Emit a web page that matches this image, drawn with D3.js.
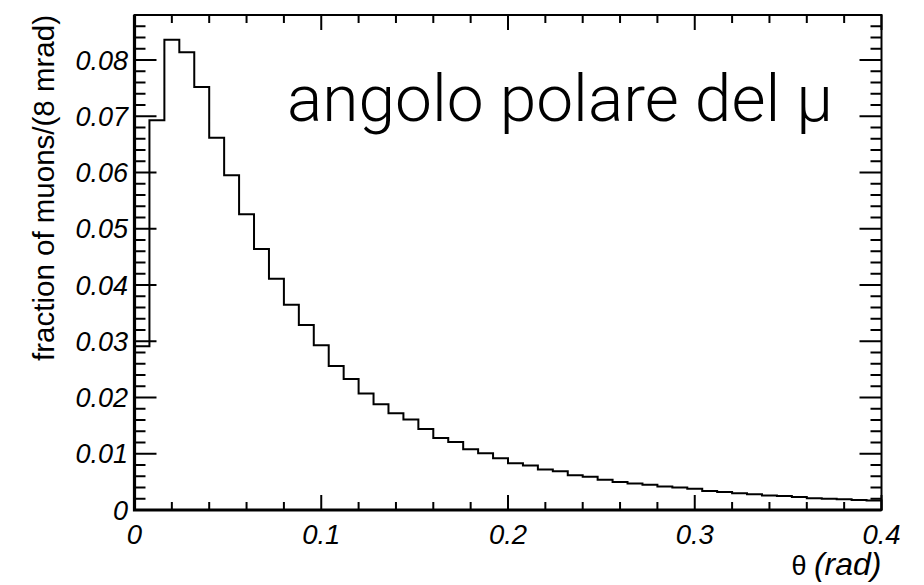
<!DOCTYPE html>
<html>
<head>
<meta charset="utf-8">
<script src="https://cdn.jsdelivr.net/npm/d3@7"></script>
<style>
  html, body { margin: 0; padding: 0; background: #fff; }
  svg { display: block; }
</style>
</head>
<body>
<svg id="chart" width="924" height="585"></svg>
<script>
// Polar angle of the muon: fraction of muons per 8 mrad bin, 50 bins from 0 to 0.4 rad
const binWidth = 0.008;
const fractions = [
  0.0291, 0.0693, 0.0836, 0.0814, 0.0752, 0.0662, 0.0595, 0.0526, 0.0464, 0.0411,
  0.0365, 0.0329, 0.0293, 0.0256, 0.0233, 0.0207, 0.0188, 0.0172, 0.0161, 0.0144,
  0.0128, 0.0121, 0.0108, 0.0101, 0.0092, 0.0083, 0.0079, 0.0072, 0.0069, 0.0062,
  0.0059, 0.0054, 0.0050, 0.0047, 0.0045, 0.0042, 0.0040, 0.0038, 0.0034, 0.0032,
  0.0030, 0.0028, 0.0026, 0.0025, 0.0023, 0.0021, 0.0020, 0.0019, 0.0018, 0.0017
];
const xMajorTicks = [0, 0.1, 0.2, 0.3, 0.4];
const xTickLabels = ["0", "0.1", "0.2", "0.3", "0.4"];
const yMajorTicks = [0, 0.01, 0.02, 0.03, 0.04, 0.05, 0.06, 0.07, 0.08];
const yTickLabels = ["0", "0.01", "0.02", "0.03", "0.04", "0.05", "0.06", "0.07", "0.08"];
const titleText = "angolo polare del \u03bc";
const yTitleText = "fraction of muons/(8 mrad)";

const svg = d3.select("#chart");
const frameL = 134.5, frameR = 881.5, frameT = 15, frameB = 510;

const x = d3.scaleLinear().domain([0, 0.4]).range([frameL, frameR]);
const y = d3.scaleLinear().domain([0, 0.088]).range([frameB, frameT]);

// minor tick positions (5 divisions per major step)
const xMinor = d3.range(0, 0.4 + 1e-9, 0.02).filter(v => !xMajorTicks.some(m => Math.abs(m - v) < 1e-9));
const yMinor = d3.range(0, 0.088 + 1e-9, 0.002).filter(v => !yMajorTicks.some(m => Math.abs(m - v) < 1e-9));

const tickG = svg.append("g").attr("stroke", "#000").attr("stroke-width", 2);

// bottom and top x ticks, pointing into the frame
function xTicks(vals, len) {
  vals.forEach(v => {
    tickG.append("line").attr("x1", x(v)).attr("x2", x(v)).attr("y1", frameB).attr("y2", frameB - len);
    tickG.append("line").attr("x1", x(v)).attr("x2", x(v)).attr("y1", frameT).attr("y2", frameT + len);
  });
}
xTicks(xMajorTicks, 15);
xTicks(xMinor, 8);

// left and right y ticks, pointing into the frame
function yTicks(vals, len) {
  vals.forEach(v => {
    tickG.append("line").attr("x1", frameL).attr("x2", frameL + len).attr("y1", y(v)).attr("y2", y(v));
    tickG.append("line").attr("x1", frameR).attr("x2", frameR - len).attr("y1", y(v)).attr("y2", y(v));
  });
}
yTicks(yMajorTicks, 22);
yTicks(yMinor, 11);

// histogram outline: rise at the left edge, flat top per bin, drop at the right edge
const outline = [[0, 0]];
fractions.forEach((v, i) => {
  outline.push([i * binWidth, v]);
  outline.push([(i + 1) * binWidth, v]);
});
outline.push([fractions.length * binWidth, 0]);
svg.append("path")
  .attr("d", d3.line().x(d => x(d[0])).y(d => y(d[1]))(outline))
  .attr("fill", "none")
  .attr("stroke", "#000")
  .attr("stroke-width", 2)
  .attr("stroke-linejoin", "miter");

// frame
svg.append("rect")
  .attr("x", frameL).attr("y", frameT)
  .attr("width", frameR - frameL).attr("height", frameB - frameT)
  .attr("fill", "none").attr("stroke", "#000").attr("stroke-width", 2);
svg.append("path")
  .attr("d", `M${frameL},${frameT}V${frameB}H${frameR}`)
  .attr("fill", "none").attr("stroke", "#000").attr("stroke-width", 3.2);

// tick labels
const labelFont = "'Liberation Sans', Arial, Helvetica, sans-serif";
svg.append("g").selectAll("text").data(xMajorTicks).join("text")
  .attr("x", d => x(d)).attr("y", 544)
  .attr("text-anchor", "middle")
  .attr("font-family", labelFont).attr("font-style", "italic").attr("font-size", 27.5)
  .text((d, i) => xTickLabels[i]);

svg.append("g").selectAll("text").data(yMajorTicks).join("text")
  .attr("x", 128).attr("y", d => y(d) + 9.5)
  .attr("text-anchor", "end")
  .attr("font-family", labelFont).attr("font-style", "italic").attr("font-size", 27)
  .text((d, i) => yTickLabels[i]);

// axis titles
const xt = svg.append("text")
  .attr("x", frameR).attr("y", 575)
  .attr("text-anchor", "end")
  .attr("font-family", labelFont).attr("font-size", 32);
xt.append("tspan").attr("font-size", 27).text("\u03b8 ");
xt.append("tspan").attr("font-style", "italic").text("(rad)");

svg.append("text")
  .attr("transform", `translate(54,${frameT}) rotate(-90)`)
  .attr("text-anchor", "end")
  .attr("font-family", labelFont).attr("font-size", 29.5)
  .text(yTitleText);

// title inside the frame
svg.append("text")
  .attr("x", 287).attr("y", 121)
  .attr("font-family", "Roboto, Lato, 'Liberation Sans', sans-serif")
  .attr("font-weight", 300)
  .attr("font-size", 65)
  .attr("textLength", 546)
  .attr("lengthAdjust", "spacingAndGlyphs")
  .text(titleText);
</script>
</body>
</html>
